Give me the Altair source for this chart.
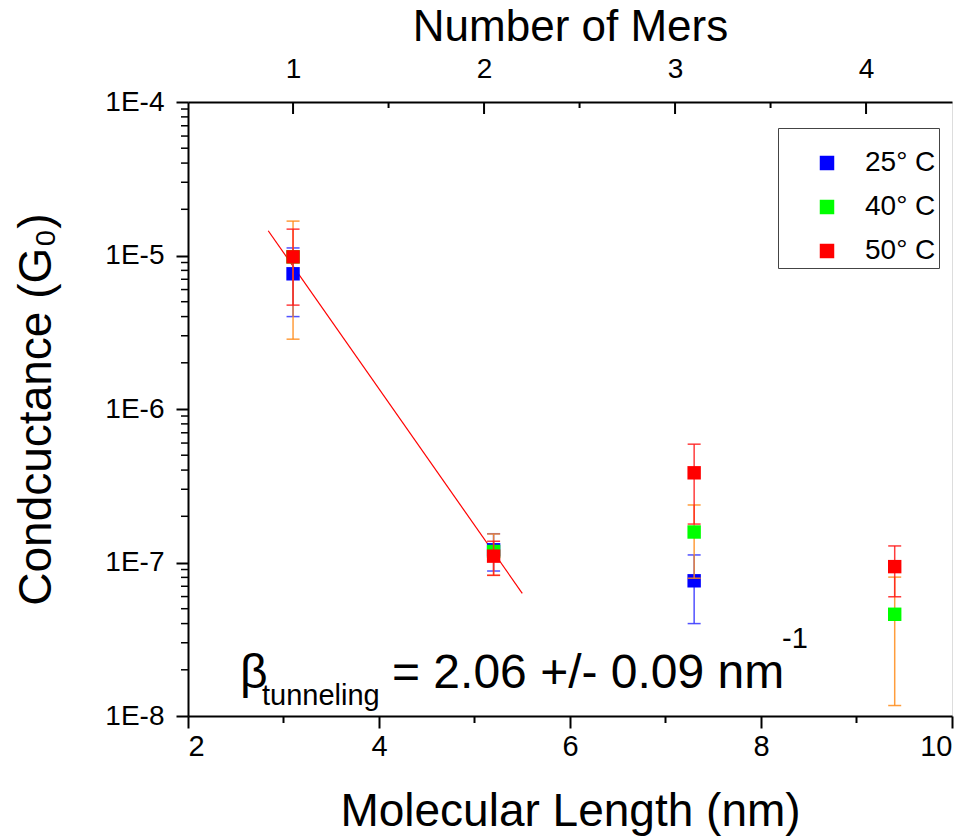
import altair as alt
import pandas as pd

# ---------------- data ----------------
lengths = [3.1, 5.2, 7.3, 9.4]          # molecular length, nm
series_names = ["25° C", "40° C", "50° C"]

g25 = [7.6e-6, 1.21e-7, 7.6e-8, None]
e25 = [3.6e-6, 3.3e-8, 3.6e-8, None]
g40 = [9.8e-6, 1.18e-7, 1.58e-7, 4.6e-8]
e40 = [6.95e-6, 3.55e-8, 7.9e-8, 3.43e-8]
g50 = [9.8e-6, 1.10e-7, 3.84e-7, 9.4e-8]
e50 = [5.05e-6, 2.75e-8, 2.06e-7, 3.42e-8]

fit_x = [2.84, 5.5]
fit_y = [1.45e-5, 6.3e-8]

mer_major = [1, 2, 3, 4]
mer_minor = [1.5, 2.5, 3.5]

x_ticks = [2, 4, 6, 8, 10]
x_minor = [3, 5, 7, 9]
y_ticks = [1e-8, 1e-7, 1e-6, 1e-5, 1e-4]
y_minor = [m * 10.0 ** d for d in range(-8, -4) for m in range(2, 10)]

point_colors = ["#0000FF", "#00FF00", "#FF0000"]
err_colors = ["#3333FF", "#FF8C1A", "#FF1A1A"]

# ---------------- tables ----------------
rows = []
for name, gs, es in zip(series_names, [g25, g40, g50], [e25, e40, e50]):
    for x, g, e in zip(lengths, gs, es):
        if g is None:
            continue
        rows.append({"series": name, "x": x, "y": g, "lo": g - e, "hi": g + e})
df = pd.DataFrame(rows)
fit_df = pd.DataFrame({"x": fit_x, "y": fit_y})

W, H = 764, 614
FONT = "Liberation Sans"

x_scale = alt.Scale(domain=[2, 10], nice=False, zero=False)
y_scale = alt.Scale(type="log", domain=[1e-8, 1e-4], nice=False)

x_axis = alt.Axis(values=x_ticks, format="d", tickSize=12, tickWidth=2, tickColor="black",
                  domainColor="black", domainWidth=2, labelFontSize=29, labelPadding=4,
                  labelColor="black", labelFont=FONT, grid=False,
                  title="Molecular Length (nm)", titleFontSize=46, titleFontWeight="normal",
                  titleFont=FONT, titleColor="black", titleY=109, titleBaseline="alphabetic")
y_axis = alt.Axis(values=y_ticks, labelExpr="'1E' + round(log(datum.value)/LN10)",
                  tickSize=12, tickWidth=2, tickColor="black", domainColor="black",
                  domainWidth=2, labelFontSize=28, labelPadding=12, labelColor="black",
                  labelFont=FONT, grid=False, title="Condcuctance (G₀)", titleFontSize=46,
                  titleFontWeight="normal", titleFont=FONT, titleColor="black",
                  titleAngle=-90, titleX=-138, titleY=H / 2, titleAlign="center",
                  titleBaseline="alphabetic")


def X(f):
    return alt.X(f"{f}:Q", scale=x_scale, axis=x_axis)


def Y(f):
    return alt.Y(f"{f}:Q", scale=y_scale, axis=y_axis)


color_enc = alt.Color(
    "series:N",
    scale=alt.Scale(domain=series_names, range=point_colors),
    legend=alt.Legend(orient="none", legendX=590, legendY=26, padding=3,
                      strokeColor="#444444", fillColor="white", title=" ",
                      titleFontSize=18, titlePadding=0, labelFontSize=28,
                      labelFont=FONT, labelColor="black", symbolType="square",
                      symbolSize=210, symbolOffset=32, labelOffset=24, rowPadding=16,
                      symbolStrokeWidth=0),
)

layers = []
fit = alt.Chart(fit_df).mark_line(color="#FF0000", strokeWidth=1.2).encode(x=X("x"), y=Y("y"))
layers.append(fit)

for name, ec in zip(series_names, err_colors):
    base = alt.Chart(df).transform_filter(alt.datum.series == name)
    bar = base.mark_rule(color=ec, strokeWidth=1.5, opacity=0.85).encode(
        x=X("x"), y=Y("lo"), y2=alt.Y2("hi:Q"))
    cap_hi = base.mark_rule(color=ec, strokeWidth=1.5, opacity=0.85,
                            xOffset=-6.5, x2Offset=6.5).encode(
        x=X("x"), x2=alt.X2("x:Q"), y=Y("hi"))
    cap_lo = base.mark_rule(color=ec, strokeWidth=1.5, opacity=0.85,
                            xOffset=-6.5, x2Offset=6.5).encode(
        x=X("x"), x2=alt.X2("x:Q"), y=Y("lo"))
    pts = base.mark_square(size=180, opacity=1, filled=True, strokeWidth=0).encode(
        x=X("x"), y=Y("y"), color=color_enc)
    layers += [bar, cap_hi, cap_lo, pts]

# minor ticks on bottom and left axes
xm = alt.Chart(pd.DataFrame({"x": x_minor})).mark_rule(color="black", strokeWidth=2).encode(
    x=X("x"), y=alt.value(H), y2=alt.value(H + 7))
ym = alt.Chart(pd.DataFrame({"v": y_minor})).mark_rule(color="black", strokeWidth=1.5).encode(
    y=Y("v"), x=alt.value(-7), x2=alt.value(0))
layers += [xm, ym]

# annotation: beta_tunneling = 2.06 +/- 0.09 nm^-1
one = pd.DataFrame({"a": [0]})


def txt(s, x, y, size):
    return alt.Chart(one).mark_text(align="left", baseline="alphabetic", font=FONT,
                                    fontSize=size, color="black").encode(
        text=alt.value(s), x=alt.value(x), y=alt.value(y))


layers += [txt("β", 52, 586, 48), txt("tunneling", 74, 603, 29),
           txt("= 2.06 +/- 0.09 nm", 204, 586, 48), txt("-1", 594, 546, 29)]

main = alt.layer(*layers)

# top axis: Number of Mers
mer_scale = alt.Scale(domain=[0.45, 4.45], nice=False, zero=False)
mer_axis = alt.Axis(orient="top", values=mer_major, format="d", ticks=False, tickSize=0,
                    domainColor="black", domainWidth=2, labelFontSize=28, labelPadding=19,
                    labelColor="black", labelFont=FONT, grid=False, title="Number of Mers",
                    titleFontSize=44, titleFontWeight="normal", titleFont=FONT,
                    titleColor="black", titleY=-62, titleBaseline="alphabetic")
top_major = alt.Chart(pd.DataFrame({"mer": mer_major})).mark_rule(
    color="black", strokeWidth=2).encode(
    x=alt.X("mer:Q", scale=mer_scale, axis=mer_axis), y=alt.value(0), y2=alt.value(12))
top_minor = alt.Chart(pd.DataFrame({"mer": mer_minor})).mark_rule(
    color="black", strokeWidth=2).encode(
    x=alt.X("mer:Q", scale=mer_scale, axis=mer_axis), y=alt.value(0), y2=alt.value(6))
top = alt.layer(top_major, top_minor)

chart = alt.layer(main, top).resolve_scale(x="independent").properties(
    width=W, height=H,
    autosize=alt.AutoSizeParams(type="none"),
    padding={"left": 188, "top": 102, "right": 22, "bottom": 122},
    background="white",
).configure_view(stroke=None).configure(font=FONT)

chart.save("out.html", embed_options={"renderer": "svg", "actions": False})
